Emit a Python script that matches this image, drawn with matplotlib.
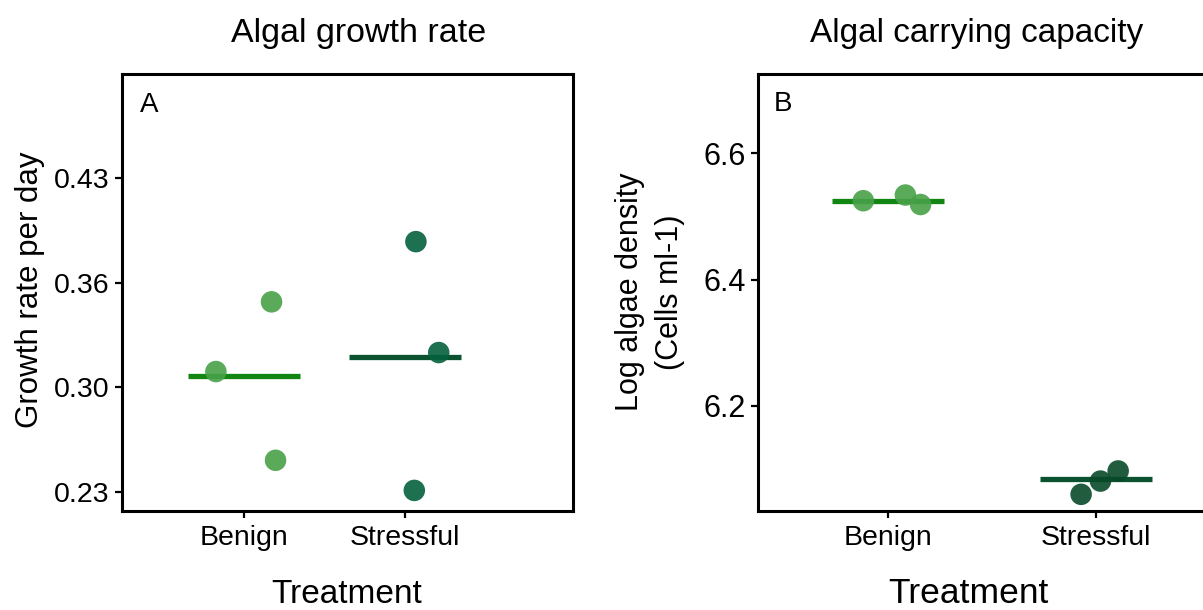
import matplotlib
matplotlib.use('Agg')
import matplotlib.pyplot as plt
import numpy as np

plt.rcParams['font.family'] = ['Liberation Sans', 'DejaVu Sans']

# data
treatments = ['Benign', 'Stressful']

growth_benign = [0.306, 0.350, 0.250]
growth_stressful = [0.388, 0.318, 0.231]
growth_means = [0.303, 0.315]
growth_ticks = [0.23, 0.296, 0.362, 0.428]
growth_ticklabels = ['0.23', '0.30', '0.36', '0.43']

density_benign = [6.525, 6.534, 6.519]
density_stressful = [6.060, 6.081, 6.097]
density_means = [6.524, 6.084]
density_ticks = [6.2, 6.4, 6.6]
density_ticklabels = ['6.2', '6.4', '6.6']

# horizontal jitter of the points
jit_growth_benign = [-0.176, 0.170, 0.195]
jit_growth_stressful = [0.068, 0.210, 0.058]
jit_density_benign = [-0.118, 0.084, 0.157]
jit_density_stressful = [-0.072, 0.021, 0.106]

pt_benign = '#48a148'
line_benign = '#128512'
pt_stress_a = '#04623e'
pt_stress_b = '#084a28'
line_stress = '#0a5230'

W, H = 1203, 610
fig = plt.figure(figsize=(W / 100, H / 100), dpi=100)


def px_axes(l, t, r, b):
    return fig.add_axes([l / W, 1 - b / H, (r - l) / W, (b - t) / H])


def style(ax, ysize):
    for s in ax.spines.values():
        s.set_linewidth(2.2)
    ax.tick_params(width=1.6, length=5, colors='black')
    ax.tick_params(axis='x', labelsize=20.5, pad=5)
    ax.tick_params(axis='y', labelsize=ysize, pad=4)


def draw(ax, groups, jits, means, hw, pcols):
    for i, (vals, jit, m, pc) in enumerate(zip(groups, jits, means, pcols)):
        x0 = i + 1
        lc = line_benign if i == 0 else line_stress
        ax.hlines(m, x0 - hw, x0 + hw, color=lc, lw=3.8, zorder=2)
        ax.scatter(np.array(jit) + x0, vals, s=240, color=pc, alpha=0.9,
                   edgecolors='none', zorder=3)


# panel A
axA = px_axes(122, 74, 573, 511)
draw(axA, [growth_benign, growth_stressful],
     [jit_growth_benign, jit_growth_stressful], growth_means, 0.35,
     [pt_benign, pt_stress_a])
axA.set_xlim(0.24, 3.045)
axA.set_ylim(0.218, 0.4938)
axA.set_xticks([1, 2])
axA.set_xticklabels(treatments)
axA.set_yticks(growth_ticks)
axA.set_yticklabels(growth_ticklabels)
style(axA, 20.5)

# panel B
axB = px_axes(758, 74, 1221, 511)
draw(axB, [density_benign, density_stressful],
     [jit_density_benign, jit_density_stressful], density_means, 0.27,
     [pt_benign, pt_stress_b])
axB.set_xlim(0.376, 2.6)
axB.set_ylim(6.0336, 6.7257)
axB.set_xticks([1, 2])
axB.set_xticklabels(treatments)
axB.set_yticks(density_ticks)
axB.set_yticklabels(density_ticklabels)
style(axB, 22)

# titles, labels, panel letters
fig.text(359 / W, 1 - 41.7 / H, 'Algal growth rate', fontsize=24.5,
         ha='center', va='baseline')
fig.text(977 / W, 1 - 41.7 / H, 'Algal carrying capacity', fontsize=24,
         ha='center', va='baseline')
fig.text(347 / W, 1 - 603 / H, 'Treatment', fontsize=24,
         ha='center', va='baseline')
fig.text(968 / W, 1 - 603 / H, 'Treatment', fontsize=25.5,
         ha='center', va='baseline')
fig.text(30 / W, 1 - 290 / H, 'Growth rate per day', fontsize=22.5,
         rotation=90, ha='center', va='center')
fig.text(650 / W, 1 - 292 / H, 'Log algae density\n(Cells ml-1)',
         fontsize=22, rotation=90, ha='center', va='center',
         linespacing=1.4, multialignment='center')
fig.text(140 / W, 1 - 111.7 / H, 'A', fontsize=20, ha='left', va='baseline')
fig.text(774 / W, 1 - 110.7 / H, 'B', fontsize=20, ha='left', va='baseline')

fig.savefig('out.png', dpi=100)
